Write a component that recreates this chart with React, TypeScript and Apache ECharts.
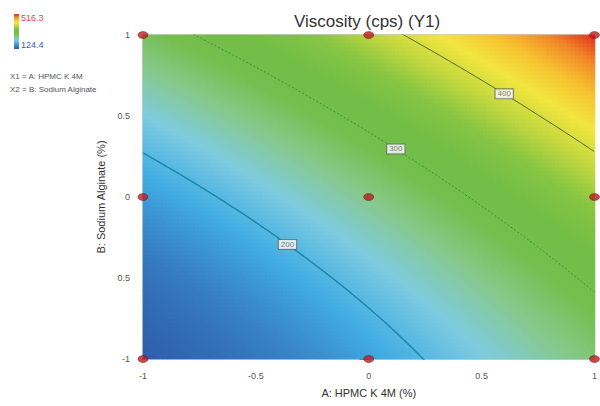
import React, { useEffect, useRef } from "react";
import * as echarts from "echarts";

// ---- chart content -------------------------------------------------------
const chartTitle = "Viscosity (cps) (Y1)";
const xAxisName = "A: HPMC K 4M (%)";
const yAxisName = "B: Sodium Alginate (%)";
const factorLegend = ["X1 = A: HPMC K 4M", "X2 = B: Sodium Alginate"];
const responseRange = [124.4, 516.3]; // legend min / max

// quadratic response-surface model in coded units
// terms: Intercept, A, B, AB, A^2, B^2
const modelCoefficients = [256.0, 93.0, 99.5, 23.8, 14.5, 26.0];

const contourLevels = [200, 300, 400];
const contourLabelA = [-0.36, 0.12, 0.6];

// 3x3 factorial design points
const designA = [-1, 0, 1, -1, 0, 1, -1, 0, 1];
const designB = [1, 1, 1, 0, 0, 0, -1, -1, -1];

const xTicks = [-1, -0.5, 0, 0.5, 1];
const xTickLabels = ["-1", "-0.5", "0", "0.5", "1"];
const yTicks = [-1, -0.5, 0, 0.5, 1];
const yTickLabels = ["-1", "0.5", "0", "0.5", "1"];

const colorScale = [
  "#2e5aa8",
  "#377ec4",
  "#42aee3",
  "#7ecbe0",
  "#86c98c",
  "#74bf4e",
  "#72be46",
  "#86c543",
  "#c3d83f",
  "#f2e63f",
  "#f6c230",
  "#f08628",
  "#e0221d",
];

// ---------------------------------------------------------------------------
const NX = 113;
const NY = 81;

function model(a: number, b: number): number {
  const [c0, c1, c2, c3, c4, c5] = modelCoefficients;
  return c0 + c1 * a + c2 * b + c3 * a * b + c4 * a * a + c5 * b * b;
}

function contourB(a: number, level: number): number | null {
  const [c0, c1, c2, c3, c4, c5] = modelCoefficients;
  const qa = c5;
  const qb = c2 + c3 * a;
  const qc = c0 + c1 * a + c4 * a * a - level;
  const disc = qb * qb - 4 * qa * qc;
  if (disc < 0) return null;
  return (-qb + Math.sqrt(disc)) / (2 * qa);
}

function buildOption() {
  const heat: number[][] = [];
  const xCats: string[] = [];
  const yCats: string[] = [];
  for (let i = 0; i < NX; i++) xCats.push(String(i));
  for (let j = 0; j < NY; j++) yCats.push(String(j));
  for (let i = 0; i < NX; i++) {
    const a = -1 + ((i + 0.5) * 2) / NX;
    for (let j = 0; j < NY; j++) {
      const b = -1 + ((j + 0.5) * 2) / NY;
      heat.push([i, j, model(a, b)]);
    }
  }

  const lineStyles = [
    { color: "#1b8aa6", width: 1.5, type: "solid" },
    { color: "#3b8f3b", width: 1, type: [2, 2] },
    { color: "#46603c", width: 1, type: "solid" },
  ];

  const contourSeries = contourLevels.map((lvl, k) => {
    const pts: number[][] = [];
    for (let s = 0; s <= 800; s++) {
      const a = -1 + s * 0.0025;
      const b = contourB(a, lvl);
      if (b !== null && b >= -1.6 && b <= 1.6) pts.push([a, b]);
    }
    return {
      type: "line",
      xAxisIndex: 1,
      yAxisIndex: 1,
      data: pts,
      showSymbol: false,
      symbol: "none",
      clip: true,
      silent: true,
      lineStyle: lineStyles[k],
      z: 3,
    };
  });

  const labelData = contourLevels.map((lvl, k) => {
    const a = contourLabelA[k];
    return { value: [a, contourB(a, lvl) as number], name: String(lvl) };
  });

  const gridPos = { left: 143, top: 35, width: 452, height: 324 };

  const fmt = (ticks: number[], labels: string[]) => (v: number) => {
    const k = ticks.findIndex((t) => Math.abs(t - v) < 1e-6);
    return k >= 0 ? labels[k] : "";
  };

  const font = "Arial, 'Liberation Sans', sans-serif";

  return {
    animation: false,
    backgroundColor: "#ffffff",
    textStyle: { fontFamily: font },
    title: {
      text: chartTitle,
      left: 289,
      top: 8,
      textStyle: { fontSize: 17, fontWeight: "normal", color: "#333", fontFamily: font },
    },
    grid: [
      { ...gridPos, show: false },
      { ...gridPos, show: true, borderColor: "#9a9a9a", borderWidth: 1, backgroundColor: "transparent" },
    ],
    xAxis: [
      { type: "category", gridIndex: 0, data: xCats, show: false },
      {
        type: "value",
        gridIndex: 1,
        min: -1,
        max: 1,
        interval: 0.5,
        name: xAxisName,
        nameLocation: "middle",
        nameGap: 28,
        nameTextStyle: { fontSize: 11, color: "#333", fontFamily: font },
        axisLine: { show: true, lineStyle: { color: "#8a8a8a" } },
        axisTick: { show: true, length: 5, lineStyle: { color: "#777" } },
        axisLabel: { color: "#555", fontSize: 9, margin: 12, formatter: fmt(xTicks, xTickLabels) },
        splitLine: { show: false },
      },
    ],
    yAxis: [
      { type: "category", gridIndex: 0, data: yCats, show: false },
      {
        type: "value",
        gridIndex: 1,
        min: -1,
        max: 1,
        interval: 0.5,
        name: yAxisName,
        nameLocation: "middle",
        nameGap: 32,
        nameTextStyle: { fontSize: 11, color: "#333", fontFamily: font },
        axisLine: { show: true, lineStyle: { color: "#8a8a8a" } },
        axisTick: { show: true, length: 9, lineStyle: { color: "#777" } },
        axisLabel: { color: "#555", fontSize: 9, margin: 13, formatter: fmt(yTicks, yTickLabels) },
        splitLine: { show: false },
      },
    ],
    visualMap: {
      type: "continuous",
      show: false,
      seriesIndex: 0,
      min: responseRange[0],
      max: responseRange[1],
      inRange: { color: colorScale },
    },
    graphic: [
      {
        type: "rect",
        shape: { x: 14, y: 14, width: 5, height: 35 },
        style: {
          fill: new echarts.graphic.LinearGradient(
            0,
            0,
            0,
            1,
            colorScale
              .slice()
              .reverse()
              .map((c, i) => ({ offset: i / (colorScale.length - 1), color: c }))
          ),
        },
      },
      {
        type: "text",
        x: 21,
        y: 13,
        style: { text: String(responseRange[1]), fill: "#e0484a", fontSize: 9, fontFamily: font },
      },
      {
        type: "text",
        x: 21,
        y: 40,
        style: { text: String(responseRange[0]), fill: "#3a58b0", fontSize: 9, fontFamily: font },
      },
      {
        type: "text",
        x: 10,
        y: 72,
        style: { text: factorLegend[0], fill: "#555", fontSize: 8, fontFamily: font },
      },
      {
        type: "text",
        x: 10,
        y: 85,
        style: { text: factorLegend[1], fill: "#555", fontSize: 8, fontFamily: font },
      },
    ],
    series: [
      {
        type: "heatmap",
        xAxisIndex: 0,
        yAxisIndex: 0,
        data: heat,
        silent: true,
        itemStyle: { borderWidth: 0 },
        progressive: 0,
        z: 1,
      },
      ...contourSeries,
      {
        type: "scatter",
        xAxisIndex: 1,
        yAxisIndex: 1,
        data: labelData,
        symbolSize: 1,
        itemStyle: { color: "transparent" },
        silent: true,
        z: 5,
        label: {
          show: true,
          position: "inside",
          formatter: "{b}",
          fontSize: 8,
          color: "#555",
          backgroundColor: "#ffffff",
          borderColor: "#666",
          borderWidth: 1,
          padding: [1, 2, 0, 2],
        },
      },
      {
        type: "scatter",
        xAxisIndex: 1,
        yAxisIndex: 1,
        data: designA.map((a, i) => [a, designB[i]]),
        symbol: "circle",
        symbolSize: [10, 7],
        clip: false,
        silent: true,
        itemStyle: { color: "#b81e22", borderColor: "#7a1012", borderWidth: 0.6 },
        z: 6,
      },
    ],
  };
}

export default function App() {
  const ref = useRef<HTMLDivElement | null>(null);
  useEffect(() => {
    if (!ref.current) return;
    const chart = echarts.init(ref.current, undefined, { renderer: "svg" });
    chart.setOption(buildOption() as any);
    return () => chart.dispose();
  }, []);
  return (
    <div
      ref={ref}
      style={{ position: "fixed", left: 0, top: 0, width: 600, height: 406 }}
    />
  );
}
